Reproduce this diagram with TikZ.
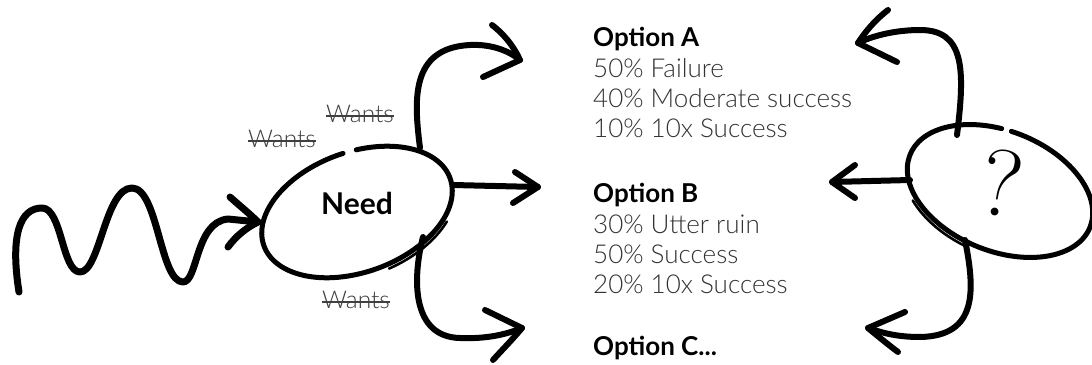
\documentclass[tikz,border=0pt]{standalone}
\usepackage{fontspec}
\setmainfont{Lato}
\newfontfamily\latolight{Lato Light}
\newfontfamily\lmr{Latin Modern Roman}
\begin{document}
\begin{tikzpicture}[x=1pt,y=-1pt,line cap=round,line join=round,
  ink/.style={draw=black,line width=6pt},
  thinink/.style={draw=black,line width=2.6pt},
  rim/.style={draw=black,line width=5pt},
  body/.style={anchor=base west,inner sep=0pt,text=black!80,font=\latolight\fontsize{26}{30}\selectfont},
  title/.style={anchor=base west,inner sep=0pt,text=black,font=\bfseries\fontsize{26}{30}\selectfont},
  want/.style={anchor=base west,inner sep=0pt,text=black!75,font=\latolight\fontsize{24.5}{28}\selectfont},
  strike/.style={draw=black!75,line width=1.1pt,line cap=butt}]
\useasboundingbox (0,0) rectangle (1092,364);
\fill[white] (0,0) rectangle (1092,364);

% ---------- left ellipse "Need" ----------
\coordinate (needc) at (357,212);
\begin{scope}[shift={(357,212)},rotate=20]
  \draw[rim] (-78:99 and 60) arc[start angle=-78,end angle=274,x radius=99,y radius=60];
  \draw[thinink] (38:103 and 64.5) arc[start angle=38,end angle=84,x radius=103,y radius=64.5];
\end{scope}
\node[inner sep=0pt,anchor=base,font=\bfseries\fontsize{30}{34}\selectfont] (need) at (357,214) {Need};

% wiggly incoming arrow
\coordinate (w0) at (19,292);
\coordinate (wtip) at (258,222);
\draw[ink,line width=7pt] (w0) .. controls (10,235) and (20,208) .. (42,208)
  .. controls (62,208) and (62,272) .. (80,272)
  .. controls (100,272) and (105,188) .. (132,188)
  .. controls (158,188) and (160,282) .. (183,282)
  .. controls (198,282) and (195,222) .. (228,219) -- (wtip);
\draw[ink,line width=7pt] (230,197) .. controls (240,206) and (250,214) .. (wtip) .. controls (246,228) and (236,236) .. (228,247);

% top arrow
\coordinate (a1s) at (420,148);
\coordinate (a1t) at (520,60);
\draw[ink] (a1s) .. controls (414,100) and (410,48) .. (470,45) .. controls (490,44) and (508,50) .. (a1t);
\draw[ink] (492,25) .. controls (505,35) and (514,47) .. (a1t) -- (483,77);

% middle arrow
\coordinate (a2s) at (453,185);
\coordinate (a2t) at (538,187);
\draw[ink] (a2s) -- (a2t);
\draw[ink] (515,172) -- (a2t) -- (513,203);

% bottom arrow
\coordinate (a3s) at (423,237);
\coordinate (a3t) at (522,328);
\draw[ink] (a3s) .. controls (412,280) and (412,337) .. (460,338) .. controls (485,339) and (505,335) .. (a3t);
\draw[ink] (485,310) -- (a3t) .. controls (512,340) and (502,350) .. (493,360);

% Wants labels
\node[want] (w1) at (326,122) {Wants};
\draw[strike] ([yshift=6pt]w1.base west) -- ([yshift=6pt]w1.base east);
\node[want] (w2) at (248,147) {Wants};
\draw[strike] ([yshift=6pt]w2.base west) -- ([yshift=6pt]w2.base east);
\node[want] (w3) at (322,308) {Wants};
\draw[strike] ([yshift=6pt]w3.base west) -- ([yshift=6pt]w3.base east);

% ---------- options text ----------
\node[title] (oa) at (593,46) {Option A};
\node[body] (oa1) at (593,77) {50\% Failure};
\node[body] (oa2) at (593,107) {40\% Moderate success};
\node[body] (oa3) at (593,137) {10\% 10x Success};
\node[title] (ob) at (593,202) {Option B};
\node[body] (ob1) at (593,233) {30\% Utter ruin};
\node[body] (ob2) at (593,263) {50\% Success};
\node[body] (ob3) at (593,293) {20\% 10x Success};
\node[title] (oc) at (593,355) {Option C...};

% ---------- right ellipse "?" ----------
\coordinate (qc) at (1000,191);
\begin{scope}[shift={(1000,191)},rotate=-22]
  \draw[rim] (-97:97 and 60) arc[start angle=-97,end angle=257,x radius=97,y radius=60];
  \draw[thinink] (96:101 and 64.5) arc[start angle=96,end angle=140,x radius=101,y radius=64.5];
\end{scope}
\node[inner sep=0pt,rotate=-10,font=\lmr\fontsize{95}{95}\selectfont] (q) at (1002,183) {?};

% right top arrow
\coordinate (b1s) at (957,135);
\coordinate (b1t) at (858,43);
\draw[ink] (b1s) .. controls (965,70) and (965,30) .. (920,30) .. controls (895,30) and (872,36) .. (b1t);
\draw[ink] (888,10) .. controls (875,20) and (865,32) .. (b1t) -- (897,62);

% right middle arrow
\coordinate (b2s) at (910,180);
\coordinate (b2t) at (832,182);
\draw[ink] (b2s) -- (b2t);
\draw[ink] (855,165) -- (b2t) -- (855,198);

% right bottom arrow
\coordinate (b3s) at (965,240);
\coordinate (b3t) at (868,328);
\draw[ink] (b3s) .. controls (975,290) and (978,336) .. (920,337) .. controls (895,337) and (880,332) .. (b3t);
\draw[ink] (905,312) -- (b3t) .. controls (880,338) and (890,346) .. (898,352);
\end{tikzpicture}
\end{document}
